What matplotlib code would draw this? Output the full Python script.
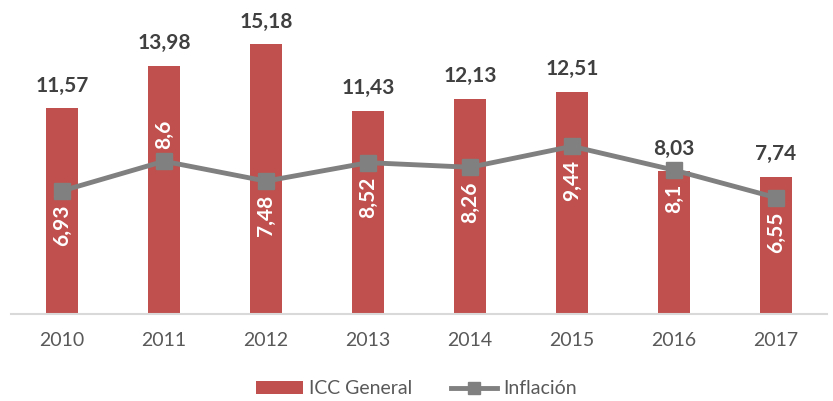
import matplotlib
import matplotlib.pyplot as plt
import numpy as np
from matplotlib.lines import Line2D
from matplotlib.patches import Patch

# data
years = ['2010', '2011', '2012', '2013', '2014', '2015', '2016', '2017']
icc_general = [11.57, 13.98, 15.18, 11.43, 12.13, 12.51, 8.03, 7.74]
inflacion = [6.93, 8.6, 7.48, 8.52, 8.26, 9.44, 8.1, 6.55]
# where the inflation label sits relative to its marker
label_side = ['below', 'above', 'below', 'below', 'below', 'below', 'below', 'below']

# constants
bar_color = '#C0504D'
line_color = '#808080'
value_color = '#404040'
tick_color = '#595959'
matplotlib.rcParams.update({'font.family': ['Lato', 'DejaVu Sans']})


def fmt(v):
    return ('%g' % v).replace('.', ',')


fig = plt.figure(figsize=(8.33, 4.01), dpi=100)
ax = fig.add_axes([11 / 833, 1 - 314 / 401, 816 / 833, 302 / 401])
x = np.arange(len(years))

ax.bar(x, icc_general, width=0.32, color=bar_color, zorder=2)
ax.plot(x, inflacion, color=line_color, linewidth=3.5, marker='s', markersize=12, zorder=3)

for xi, v in zip(x, icc_general):
    ax.annotate(fmt(v), (xi, v), xytext=(0, 9), textcoords='offset points',
                ha='center', va='bottom', fontsize=15, fontweight='bold', color=value_color)

for xi, v, side in zip(x, inflacion, label_side):
    if side == 'below':
        ax.annotate(fmt(v), (xi, v), xytext=(0, -10), textcoords='offset points', rotation=90,
                    ha='center', va='top', fontsize=15, fontweight='bold', color='white', zorder=4)
    else:
        ax.annotate(fmt(v), (xi, v), xytext=(0, 9), textcoords='offset points', rotation=90,
                    ha='center', va='bottom', fontsize=15, fontweight='bold', color='white', zorder=4)

ax.set_xlim(-0.5, len(years) - 0.5)
ax.set_ylim(0, 17.0)
ax.set_xticks(x)
ax.set_xticklabels(years, fontsize=14, color=tick_color)
ax.tick_params(axis='x', length=0, pad=13)
ax.set_yticks([])
for s in ['top', 'right', 'left']:
    ax.spines[s].set_visible(False)
ax.spines['bottom'].set_color('#d9d9d9')
ax.spines['bottom'].set_linewidth(1.5)

handles = [Patch(facecolor=bar_color, label='ICC General'),
           Line2D([0], [0], color=line_color, linewidth=3.5, marker='s', markersize=8, label='Inflación')]
fig.legend(handles=handles, loc='center', bbox_to_anchor=(0.5, 1 - 389 / 401), ncol=2, frameon=False,
           fontsize=14, handlelength=2.4, handleheight=0.6, handletextpad=0.3, columnspacing=2.0,
           labelcolor=tick_color)

plt.savefig('out.png', dpi=100)
